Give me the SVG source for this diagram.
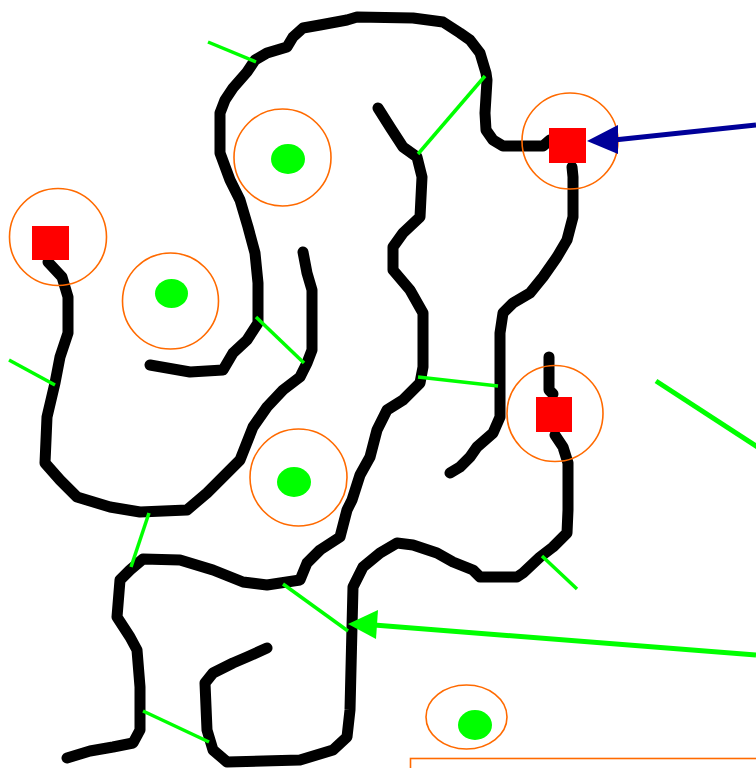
<svg xmlns="http://www.w3.org/2000/svg" width="756" height="768" viewBox="0 0 756 768">
<style>
.blk{fill:none;stroke:#000;stroke-width:11;stroke-linecap:round;stroke-linejoin:round}
.gl{stroke:#00ff00;stroke-width:3.5;stroke-linecap:butt}
.ring{fill:none;stroke:#ff6a00;stroke-width:1.6}
.dot{fill:#00ff00}
.sq{fill:#ff0000}
</style>
<rect width="756" height="768" fill="#fff"/>
<g id="curves">
<path class="blk" d="M550,140 L543,146 L503,146 L493,140 L486,130 L485,113 L487,80 L486,73 L480,53 L470,40 L460,33 L443,22 L413,18 L357,17 L347,20 L320,25 L303,28 L293,37 L287,47 L267,53 L255,60 L247,72 L233,88 L225,100 L220,113 L220,153 L230,180 L240,200 L248,227 L255,253 L258,283 L258,323 L247,340 L233,353 L223,370 L190,372 L150,365"/>
<path class="blk" d="M48,262 L62,277 L68,297 L68,333 L60,357 L55,383 L47,417 L45,463 L60,480 L77,497 L110,507 L140,512 L187,510 L207,493 L220,480 L240,460 L253,427 L267,407 L283,390 L300,377 L307,363 L312,350 L312,290 L307,273 L303,252"/>
<path class="blk" d="M378,108 L390,127 L403,147 L417,157 L422,177 L420,217 L403,233 L393,247 L393,270 L410,290 L423,313 L423,367 L420,383 L403,400 L387,410 L377,430 L370,457 L360,475 L352,500 L347,510 L340,537 L320,550 L307,563 L300,580 L267,585 L243,582 L213,570 L180,560 L143,559 L130,570 L120,580 L117,617 L130,637 L137,650 L140,687 L140,730 L133,743 L113,747 L90,751 L67,758"/>
<path class="blk" d="M549,357 L549,390 L553,394"/>
<path class="blk" d="M572,167 L573,177 L573,217 L567,240 L557,257 L543,277 L530,293 L513,303 L503,313 L500,333 L500,417 L493,433 L477,447 L470,457 L460,467 L450,473"/>
<path class="blk" d="M555,435 L563,447 L568,463 L568,510 L567,533 L553,547 L540,557 L523,573 L517,577 L480,577 L473,570 L453,562 L437,553 L413,545 L397,543 L380,553 L363,567 L353,587 L352,627 L350,710 L347,737 L333,750 L300,760 L227,762 L213,750 L207,730 L205,683 L213,673 L233,663 L247,657 L267,648"/>
</g>
<g id="ticks">
<line class="gl" x1="208" y1="42" x2="256" y2="62"/>
<line class="gl" x1="485" y1="76" x2="418" y2="154"/>
<line class="gl" x1="256" y1="317" x2="304" y2="363"/>
<line class="gl" x1="9" y1="360" x2="55" y2="385"/>
<line class="gl" x1="418" y1="377" x2="498" y2="386"/>
<line class="gl" x1="149" y1="513" x2="131" y2="567"/>
<line class="gl" x1="283" y1="584" x2="348" y2="631"/>
<line class="gl" x1="143" y1="711" x2="209" y2="742"/>
<line class="gl" x1="542" y1="556" x2="577" y2="589"/>
<line x1="656" y1="381" x2="762" y2="450" stroke="#00ff00" stroke-width="5"/>
</g>
<g id="nodes">
<g id="n1"><circle class="ring" cx="282.5" cy="157.5" r="48.5"/><ellipse class="dot" cx="288" cy="159" rx="17" ry="15"/></g>
<g id="n2"><circle class="ring" cx="58" cy="237" r="48.5"/><rect class="sq" x="32" y="226" width="37" height="34"/></g>
<g id="n3"><circle class="ring" cx="170.5" cy="301" r="48"/><ellipse class="dot" cx="171.5" cy="293.5" rx="16.5" ry="14.5"/></g>
<g id="n4"><circle class="ring" cx="298.5" cy="477.5" r="48.5"/><ellipse class="dot" cx="294" cy="482" rx="17" ry="15"/></g>
<g id="n5"><circle class="ring" cx="570" cy="141" r="48"/><rect class="sq" x="549" y="128" width="37" height="35"/></g>
<g id="n6"><circle class="ring" cx="555" cy="413.5" r="48"/><rect class="sq" x="536" y="397" width="36" height="35"/></g>
<g id="n7"><ellipse class="ring" cx="466.5" cy="717" rx="40.5" ry="32"/><ellipse class="dot" cx="475" cy="725" rx="17" ry="15"/></g>
<rect id="box" x="410.5" y="758.5" width="360" height="30" fill="none" stroke="#ff6a00" stroke-width="1.6"/>
</g>
<g id="connectors">
<line x1="756" y1="655" x2="374" y2="625" stroke="#00ff00" stroke-width="5"/>
<polygon points="348,624 378,610 376,639" fill="#00ff00"/>
<line x1="756" y1="125" x2="614" y2="140" stroke="#000099" stroke-width="5"/>
<polygon points="587,141 618,125 618,154" fill="#000099"/>
</g>
</svg>
